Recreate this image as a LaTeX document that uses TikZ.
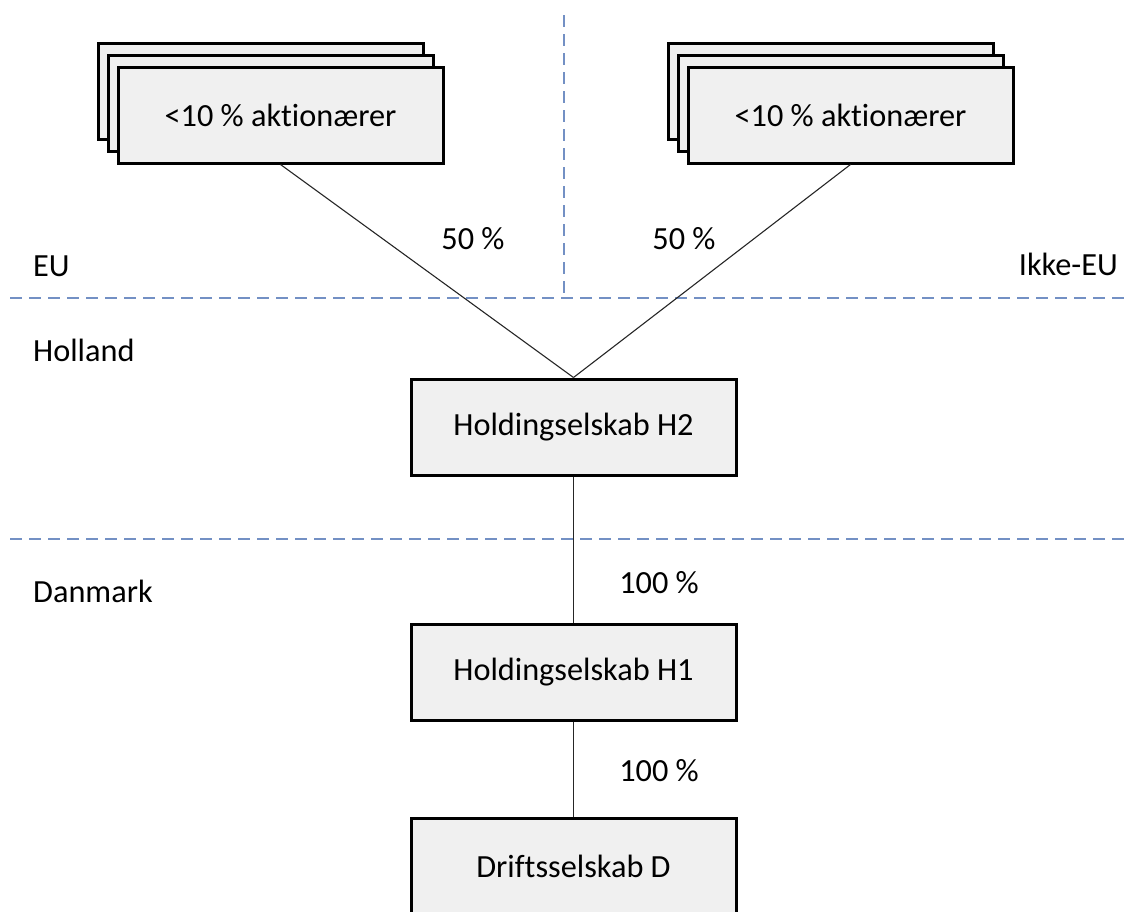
\documentclass[tikz,border=0pt]{standalone}
\usepackage{fontspec}
\setmainfont[Ligatures=CommonOff]{Carlito}
\definecolor{boxfill}{HTML}{F0F0F0}
\definecolor{dashblue}{HTML}{7390C4}
\begin{document}
\begin{tikzpicture}[x=1pt,y=-1pt,
  every node/.style={font=\fontsize{32.3}{38}\selectfont},
  entity/.style={draw=black,line width=3pt,fill=boxfill,minimum width=325pt,minimum height=96pt,inner sep=0pt},
  link/.style={line width=1.1pt,draw=black!85},
  border/.style={draw=dashblue,line width=1.8pt,dash pattern=on 12pt off 7pt},
  lbl/.style={inner sep=0pt}]
\useasboundingbox (0,0) rectangle (1130,911);
\clip (0,0) rectangle (1130,911);
% region borders
\coordinate (d1l) at (10,298);
\coordinate (d1r) at (1130,298);
\coordinate (d2l) at (10,539);
\coordinate (d2r) at (1130,539);
\coordinate (vt) at (564,15);
\coordinate (vb) at (564,298);
\draw[border] (d1l) -- (d1r);
\draw[border] (d2l) -- (d2r);
\draw[border] (vt) -- (vb);
% region labels
\node[lbl,anchor=west] (eu) at (33,266) {EU};
\node[lbl,anchor=east] (ikke) at (1118,264) {Ikke-EU};
\node[lbl,anchor=west] (holland) at (33,350) {Holland};
\node[lbl,anchor=west] (danmark) at (33,591) {Danmark};
% left stack
\node[entity] (lback) at (260.5,91.5) {};
\node[entity] (lmid) at (270.5,103.5) {};
\node[entity] (lfront) at (280.5,115) {<10 \% aktionærer};
% right stack
\node[entity] (rback) at (830.5,91.5) {};
\node[entity] (rmid) at (840.5,103.5) {};
\node[entity] (rfront) at (850.5,115) {<10 \% aktionærer};
% chain
\node[entity] (h2) at (573.5,427) {Holdingselskab H2};
\node[entity] (h1) at (573.5,672) {Holdingselskab H1};
\node[entity] (d) at (573.5,866) {Driftsselskab D};
% connectors
\draw[link] (lfront.south) -- (h2.north);
\draw[link] (rfront.south) -- (h2.north);
\draw[link] (h2.south) -- (h1.north);
\draw[link] (h1.south) -- (d.north);
% percentages
\node[lbl] (p1) at (473,239) {50 \%};
\node[lbl] (p2) at (684,239) {50 \%};
\node[lbl] (p3) at (659,583) {100 \%};
\node[lbl] (p4) at (659,771) {100 \%};
\end{tikzpicture}
\end{document}
